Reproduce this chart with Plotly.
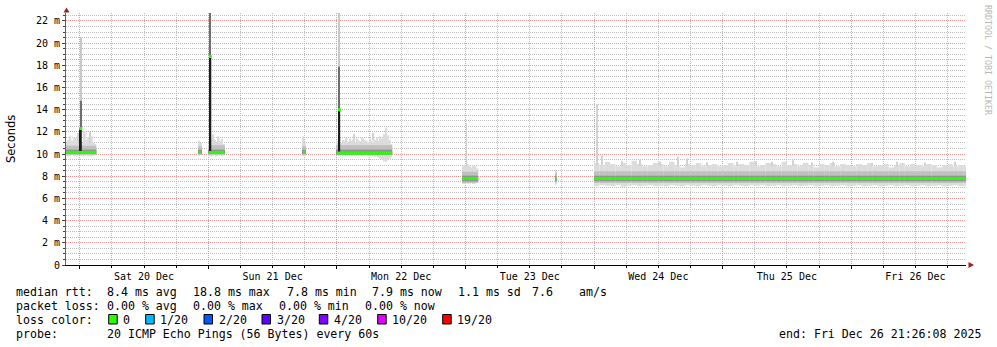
import pandas as pd
import plotly.graph_objects as go

# ---------------- data ----------------
T_START = "2025-12-19 21:26:08"
T_END = "2025-12-26 21:26:08"
Y_MAX_MS = 22.72

# measurement segments (start time, bin size in minutes)
SEG_START = ["2025-12-19 21:26", "2025-12-20 22:12", "2025-12-21 00:05", "2025-12-21 17:38",
             "2025-12-22 00:00", "2025-12-22 23:22", "2025-12-23 16:44", "2025-12-24 00:00"]
SEG_STEP_MIN = [20, 15, 20, 15, 20, 20, 10, 60]
SEG_MEDIAN = [10.15, 10.15, 10.15, 10.15, 10.1, 7.8, 7.8, 7.8]
SEG_MID_LOW = [9.95, 9.95, 9.95, 9.95, 9.9, 7.4, 7.45, 7.4]
SEG_MID_HIGH = [10.75, 10.7, 10.8, 10.7, 10.8, 8.4, 8.3, 8.45]
SEG_DARK_LOW = [10.0, 10.0, 10.0, 10.0, 9.95, 7.55, 7.6, 7.55]
SEG_DARK_HIGH = [10.4, 10.4, 10.4, 10.4, 10.4, 8.05, 8.0, 8.05]

# smoke envelope (ms) per bin
A_TOP = [11.0, 11.3, 11.6, 11.2, 11.4, 11.5, 11.1, 11.3, 11.2, 11.0, 12.1, 11.3, 11.5, 11.1, 11.6, 11.0, 10.9]
A_LOW = [9.85, 9.8, 9.85, 9.9, 9.8, 9.85, 9.8, 9.9, 9.85, 9.8, 9.85, 9.9, 9.8, 9.85, 9.8, 9.85, 9.9]
B_TOP = [11.2, 11.0]
B_LOW = [9.85, 9.9]
C_TOP = [10.9, 11.5, 11.8, 11.3, 11.0, 11.6, 11.2, 11.4, 10.9]
C_LOW = [9.85, 9.8, 9.85, 9.9, 9.8, 9.85, 9.9, 9.8, 9.85]
D_TOP = [11.6, 11.0]
D_LOW = [9.8, 9.85]
E_TOP = [11.2, 11.4, 11.0, 11.3, 11.2, 11.5, 11.0, 11.4, 11.2, 11.3, 11.1, 11.4, 11.2, 11.0, 11.5, 11.3,
         11.2, 11.1, 11.4, 11.2, 11.1, 11.3, 11.5, 11.2, 11.6, 11.4, 11.8, 12.4, 11.7, 11.3, 10.9]
E_LOW = [9.9, 9.85, 9.9, 9.85, 9.9, 9.85, 9.9, 9.9, 9.85, 9.9, 9.85, 9.9, 9.85, 9.9, 9.85, 9.9,
         9.9, 9.85, 9.8, 9.85, 9.8, 9.75, 9.8, 9.7, 9.6, 9.5, 9.35, 9.3, 9.45, 9.55, 9.7]
F_TOP = [8.9, 9.0, 8.8, 9.1, 8.9, 8.8, 9.0, 8.9, 8.7]
F_LOW = [7.35, 7.3, 7.4, 7.3, 7.35, 7.4, 7.3, 7.35, 7.4]
G_TOP = [8.6, 8.5]
G_LOW = [7.2, 7.3]
H_TOP = [9.2, 9.0, 9.3, 9.1, 8.9, 9.2, 9.0, 9.4, 9.1, 8.9, 9.0, 9.2, 9.1, 8.9, 9.3, 9.0, 8.8, 9.1, 9.0, 9.2, 8.9, 9.0, 9.1, 8.9,
         9.0, 9.2, 8.9, 9.1, 9.0, 9.3, 8.9, 9.0, 9.2, 9.1, 8.9, 9.3, 9.0, 9.1, 8.9, 9.2, 9.0, 8.8, 9.1, 9.0, 9.2, 8.9, 9.1, 9.0,
         8.9, 9.1, 9.0, 9.2, 8.9, 9.0, 9.1, 8.8, 9.0, 9.2, 8.9, 9.1, 9.0, 8.9, 9.1, 9.0, 8.8, 9.0, 9.1, 8.9, 9.0, 8.9]
H_LOW = [7.1, 7.2, 7.15, 7.1, 7.2, 7.05, 7.15, 7.2, 7.1, 7.15, 7.2, 7.1, 7.15, 7.1, 7.2, 7.15, 7.1, 7.2, 7.15, 7.1, 7.2, 7.15, 7.1, 7.2,
         7.15, 7.1, 7.2, 7.15, 7.1, 7.2, 7.15, 7.2, 7.1, 7.15, 7.2, 7.1, 7.15, 7.2, 7.1, 7.15, 7.2, 7.1, 7.15, 7.2, 7.1, 7.15, 7.2, 7.1,
         7.15, 7.2, 7.1, 7.15, 7.2, 7.1, 7.15, 7.2, 7.1, 7.15, 7.2, 7.1, 7.15, 7.2, 7.1, 7.15, 7.2, 7.1, 7.15, 7.2, 7.1, 7.15]
SEG_TOP = [A_TOP, B_TOP, C_TOP, D_TOP, E_TOP, F_TOP, G_TOP, H_TOP]
SEG_LOW = [A_LOW, B_LOW, C_LOW, D_LOW, E_LOW, F_LOW, G_LOW, H_LOW]

# heavy spikes (median jumps)
SPIKE_TIME = ["2025-12-20 00:12", "2025-12-21 00:22", "2025-12-22 00:26"]
SPIKE_BASE = [10.05, 10.05, 10.05]
SPIKE_MEDIAN = [12.3, 18.8, 14.0]
SPIKE_MID = [14.8, 22.72, 17.9]
SPIKE_MAX = [20.5, 22.72, 22.72]

# thin smoke peaks
PEAK_TIME = ["2025-12-23 00:12", "2025-12-24 00:34", "2025-12-24 01:26", "2025-12-24 05:10", "2025-12-24 08:35",
             "2025-12-24 12:20", "2025-12-24 15:41", "2025-12-24 17:18", "2025-12-24 21:05", "2025-12-25 02:38",
             "2025-12-25 06:15", "2025-12-25 09:10", "2025-12-25 13:09", "2025-12-25 16:40", "2025-12-25 20:37",
             "2025-12-26 03:54", "2025-12-26 08:30", "2025-12-26 13:45", "2025-12-26 19:23",
             "2025-12-19 23:40", "2025-12-20 01:50", "2025-12-22 03:15", "2025-12-22 06:40"]
PEAK_BASE = [8.8, 9.0, 9.0, 8.9, 8.9, 8.9, 8.9, 8.9, 8.9, 8.9, 8.9, 8.9, 8.9, 8.9, 8.9, 8.9, 8.9, 8.9, 8.9,
             11.0, 11.0, 11.2, 11.2]
PEAK_MAX = [12.8, 14.5, 9.85, 9.35, 9.5, 9.3, 9.75, 9.6, 9.25, 9.3, 9.35, 9.3, 9.45, 9.25, 9.3, 9.2, 9.3, 9.25, 9.3,
            11.9, 12.0, 11.8, 11.9]

Y_TICKS = [0, 2, 4, 6, 8, 10, 12, 14, 16, 18, 20, 22]
Y_TICK_TEXT = ["0", "2 m", "4 m", "6 m", "8 m", "10 m", "12 m", "14 m", "16 m", "18 m", "20 m", "22 m"]
DAY_NOON = ["2025-12-20 12:00", "2025-12-21 12:00", "2025-12-22 12:00", "2025-12-23 12:00",
            "2025-12-24 12:00", "2025-12-25 12:00", "2025-12-26 12:00"]
DAY_LABELS = ["Sat 20 Dec", "Sun 21 Dec", "Mon 22 Dec", "Tue 23 Dec", "Wed 24 Dec", "Thu 25 Dec", "Fri 26 Dec"]

RTT_TEXT = ["8.4 ms avg", "18.8 ms max", "7.8 ms min", "7.9 ms now", "1.1 ms sd", "7.6", "am/s"]
LOSS_TEXT = ["0.00 % avg", "0.00 % max", "0.00 % min", "0.00 % now"]
LOSS_LABELS = ["0", "1/20", "2/20", "3/20", "4/20", "10/20", "19/20"]
LOSS_COLORS = ["#26ff00", "#00b8ff", "#0059ff", "#5e00ff", "#7e00ff", "#dd00ff", "#ff0000"]
PROBE_TEXT = "20 ICMP Echo Pings (56 Bytes) every 60s"
END_TEXT = "end: Fri Dec 26 21:26:08 2025"

# ---------------- layout constants ----------------
W, H = 997, 347
L, R, T, B = 66, 31, 13, 82
PW, PH = W - L - R, H - T - B
MONO = "DejaVu Sans Mono"
GREEN = "#26ff00"
MAJOR_GRID = "#ef9696"
MINOR_GRID = "#bdbdbd"


def px(x):
    return (x - L) / PW


def py(y):
    return (H - B - y) / PH


# ---------------- build traces ----------------
cx, step_ms = [], []
light_base, light_h, mid_base, mid_h, dark_base, dark_h = [], [], [], [], [], []
med_x, med_y = [], []
for i, s in enumerate(SEG_START):
    start = pd.Timestamp(s)
    step = pd.Timedelta(minutes=SEG_STEP_MIN[i])
    n = len(SEG_TOP[i])
    for k in range(n):
        cx.append(start + step * (k + 0.5))
        step_ms.append(step.total_seconds() * 1000)
        top, low = SEG_TOP[i][k], SEG_LOW[i][k]
        light_base.append(low)
        light_h.append(top - low)
        mid_base.append(SEG_MID_LOW[i])
        mid_h.append(min(SEG_MID_HIGH[i], top) - SEG_MID_LOW[i])
        dark_base.append(SEG_DARK_LOW[i])
        dark_h.append(SEG_DARK_HIGH[i] - SEG_DARK_LOW[i])
    med_x += [start, start + step * n, None]
    med_y += [SEG_MEDIAN[i], SEG_MEDIAN[i], None]

fig = go.Figure()


def bar(x, base, h, width, color):
    fig.add_trace(go.Bar(x=x, base=base, y=h, width=width, marker=dict(color=color, line=dict(width=0)),
                         hoverinfo="skip", showlegend=False))


bar(cx, light_base, light_h, step_ms, "#dcdcdc")
bar(PEAK_TIME, PEAK_BASE, [m - b for m, b in zip(PEAK_MAX, PEAK_BASE)], [10 * 60000] * len(PEAK_TIME), "#d2d2d2")
bar(cx, mid_base, mid_h, step_ms, "#c0c0c0")
bar(cx, dark_base, dark_h, step_ms, "#929292")
bar(SPIKE_TIME, SPIKE_MID, [m - b for m, b in zip(SPIKE_MAX, SPIKE_MID)], [11 * 60000] * 3, "#c8c8c8")
bar(SPIKE_TIME, SPIKE_MEDIAN, [m - b for m, b in zip(SPIKE_MID, SPIKE_MEDIAN)], [11 * 60000] * 3, "#6e6e6e")
bar(SPIKE_TIME, SPIKE_BASE, [m - b for m, b in zip(SPIKE_MEDIAN, SPIKE_BASE)], [22 * 60000] * 3, "#1c1c1c")

fig.add_trace(go.Scatter(x=med_x, y=med_y, mode="lines", line=dict(color=GREEN, width=3),
                         hoverinfo="skip", showlegend=False, connectgaps=False))
fig.add_trace(go.Scatter(x=SPIKE_TIME, y=SPIKE_MEDIAN, mode="markers",
                         marker=dict(symbol="square", size=3, color=GREEN, line=dict(width=0)),
                         hoverinfo="skip", showlegend=False))
# carrier for the day-label axis
fig.add_trace(go.Scatter(x=[T_START, T_END], y=[None, None], xaxis="x2", mode="lines",
                         hoverinfo="skip", showlegend=False))

grid_common = dict(griddash="1px,1px", gridwidth=1)
fig.update_layout(
    width=W, height=H,
    margin=dict(l=L, r=R, t=T, b=B, pad=0),
    paper_bgcolor="white", plot_bgcolor="white",
    showlegend=False, barmode="overlay",
    font=dict(family=MONO, size=10, color="black"),
    xaxis=dict(type="date", range=[T_START, T_END], tickmode="linear", tick0="2025-12-20 00:00", dtick=86400000,
               showticklabels=False, showgrid=True, gridcolor=MAJOR_GRID, **grid_common,
               ticks="outside", ticklen=3, tickcolor="black", showline=True, linecolor="black", linewidth=1,
               zeroline=False,
               minor=dict(tick0="2025-12-20 00:00", dtick=21600000, showgrid=True, gridcolor=MINOR_GRID,
                          griddash="1px,1px", gridwidth=1, ticks="outside", ticklen=2, tickcolor="black")),
    xaxis2=dict(type="date", overlaying="x", matches="x", side="bottom", anchor="y",
                tickmode="array", tickvals=DAY_NOON, ticktext=DAY_LABELS, showgrid=False,
                ticks="outside", ticklen=2, tickcolor="rgba(0,0,0,0)",
                showline=False, zeroline=False, tickfont=dict(family=MONO, size=10, color="black")),
    yaxis=dict(range=[0, Y_MAX_MS], tickmode="array", tickvals=Y_TICKS, ticktext=Y_TICK_TEXT,
               showgrid=True, gridcolor=MAJOR_GRID, **grid_common,
               ticks="outside", ticklen=3, tickcolor="#404040", showline=True, linecolor="#606060", linewidth=1,
               zeroline=False, tickfont=dict(family=MONO, size=10, color="black"),
               minor=dict(tick0=0, dtick=0.5, showgrid=True, gridcolor=MINOR_GRID, griddash="1px,1px",
                          gridwidth=1, ticks="outside", ticklen=2, tickcolor="#404040")),
)

# ---------------- annotations / decorations ----------------
ann = []
LF = dict(family=MONO, size=11.6, color="black")


def text(x, y, s, anchor="left", font=LF, **kw):
    ann.append(dict(text=s, x=px(x), y=py(y), xref="paper", yref="paper", xanchor=anchor, yanchor="middle",
                    showarrow=False, font=font, borderpad=0, borderwidth=0, **kw))


Y1, Y2, Y3, Y4 = 291.5, 305.5, 319.5, 333.5
text(16, Y1, "median rtt:")
for s, x in zip(RTT_TEXT, [107.3, 193.3, 286.7, 372.3, 458.3, 531.7, 579.3]):
    text(x, Y1, s)
text(16, Y2, "packet loss:")
for s, x in zip(LOSS_TEXT, [107.3, 193.3, 279.3, 365.0]):
    text(x, Y2, s)
text(16, Y3, "loss color:")
shapes = []
for s, c, x in zip(LOSS_LABELS, LOSS_COLORS, [108.7, 145.7, 204.0, 262.0, 319.3, 377.7, 442.7]):
    shapes.append(dict(type="rect", xref="paper", yref="paper", x0=px(x), x1=px(x + 8.5),
                       y0=py(324), y1=py(314.5), fillcolor=c, line=dict(color="black", width=1)))
    text(x + 14.6, Y3, s)
text(16, Y4, "probe:")
text(107.3, Y4, PROBE_TEXT)
text(981, Y4, END_TEXT, anchor="right")

# y-axis title
ann.append(dict(text="Seconds", x=px(11), y=py(139), xref="paper", yref="paper", xanchor="center",
                yanchor="middle", textangle=-90, showarrow=False, borderpad=0,
                font=dict(family="DejaVu Sans", size=11.5, color="black")))
# watermark
ann.append(dict(text="RRDTOOL / TOBI OETIKER", x=px(988), y=py(60), xref="paper", yref="paper",
                xanchor="center", yanchor="middle", textangle=90, showarrow=False, borderpad=0,
                font=dict(family=MONO, size=8.3, color="#b8b8b8")))

# axis arrows
ARROW = "#a02020"
shapes.append(dict(type="path", xref="paper", yref="paper", fillcolor=ARROW, line=dict(color=ARROW, width=0),
                   path=f"M {px(66.5)} {py(7.5)} L {px(63.5)} {py(12.5)} L {px(69.5)} {py(12.5)} Z"))
shapes.append(dict(type="path", xref="paper", yref="paper", fillcolor=ARROW, line=dict(color=ARROW, width=0),
                   path=f"M {px(974)} {py(265)} L {px(968.5)} {py(262)} L {px(968.5)} {py(268)} Z"))

fig.update_layout(annotations=ann, shapes=shapes)
fig.write_html("out.html")
